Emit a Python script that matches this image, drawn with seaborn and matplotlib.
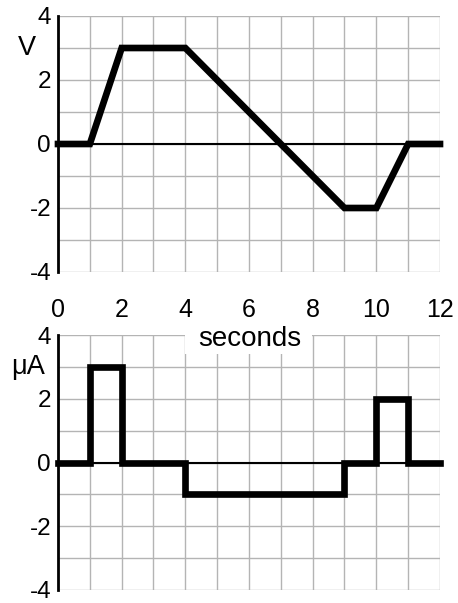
import matplotlib
matplotlib.use("Agg")
from matplotlib import pyplot as plt
from matplotlib.patches import Rectangle
import seaborn as sns

# voltage waveform (corner points) and resulting current (step values)
time_s = [0, 1, 2, 4, 9, 10, 11, 12]
volts = [0, 0, 3, 3, -2, -2, 0, 0]
micro_amps = [0, 3, 0, -1, 0, 2, 0, 0]

x_ticks = [0, 2, 4, 6, 8, 10, 12]
y_ticks = [-4, -2, 0, 2, 4]

sns.set_theme(style="white")
plt.rcParams["font.family"] = ["Liberation Sans", "DejaVu Sans"]
plt.rcParams["axes.unicode_minus"] = False

fig = plt.figure(figsize=(4.58, 6.03), dpi=100)
W, H = 458, 603
ax_top = fig.add_axes([58 / W, 1 - 272 / H, 382 / W, 256 / H])
ax_bot = fig.add_axes([58 / W, 1 - 590 / H, 382 / W, 255 / H])


def style_axis(ax, unit, unit_x, show_x):
    ax.set_xlim(0, 12)
    ax.set_ylim(-4, 4)
    ax.set_xticks(range(0, 13), minor=True)
    ax.set_yticks(range(-4, 5), minor=True)
    ax.set_xticks(x_ticks)
    ax.set_yticks(y_ticks)
    ax.grid(which="both", color="#b4b4b4", linewidth=1.0)
    ax.set_axisbelow(True)
    for side in ["top", "right", "bottom"]:
        ax.spines[side].set_visible(False)
    ax.spines["left"].set_color("black")
    ax.spines["left"].set_linewidth(2.0)
    ax.spines["left"].set_zorder(4)
    ax.tick_params(which="both", length=0)
    ax.tick_params(axis="y", pad=5, labelsize=17.5, labelcolor="black")
    ax.tick_params(axis="x", pad=19, labelsize=18, labelcolor="black",
                   labelbottom=show_x)
    ax.axhline(0, color="black", linewidth=1.5, zorder=2)
    ax.text(unit_x, 3, unit, ha="center", va="center", fontsize=19.5,
            color="black", clip_on=False)
    ax.set_xlabel(None)
    ax.set_ylabel(None)


sns.lineplot(x=time_s, y=volts, ax=ax_top, color="black", linewidth=4.8,
             clip_on=False, solid_capstyle="projecting",
             solid_joinstyle="miter", zorder=5)
style_axis(ax_top, "V", -0.98, True)

sns.lineplot(x=time_s, y=micro_amps, ax=ax_bot, color="black", linewidth=4.8,
             drawstyle="steps-post", clip_on=False,
             solid_capstyle="projecting", solid_joinstyle="miter", zorder=5)
style_axis(ax_bot, "μA", -0.93, False)

# white patch behind the shared x-axis title
ax_bot.add_patch(Rectangle((3.99, 3.41), 3.99, 0.9, facecolor="white",
                           edgecolor="none", zorder=3, clip_on=False))
ax_bot.text(6.03, 3.66, "seconds", ha="center", va="baseline", fontsize=20,
            color="black", zorder=6, clip_on=False)

fig.savefig("out.png", dpi=100)
